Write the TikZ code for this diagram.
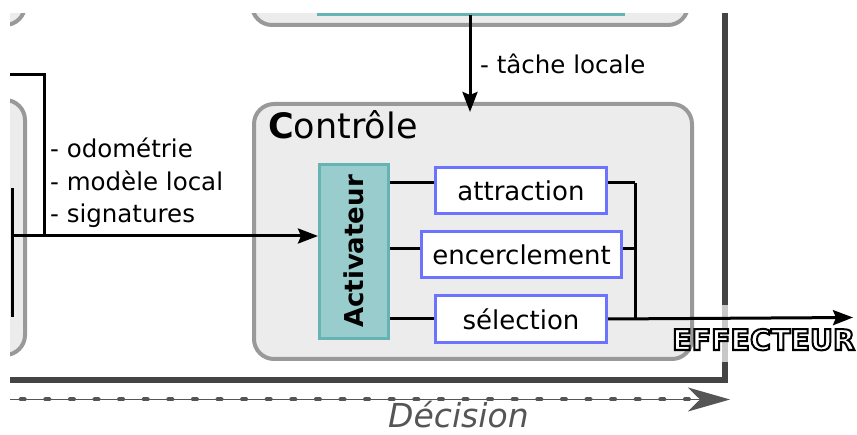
\documentclass[tikz,border=0pt]{standalone}
\usepackage{fontspec}
\setmainfont{DejaVu Sans}[ItalicFont={DejaVu Sans Oblique},BoldFont={DejaVu Sans Bold}]
\usetikzlibrary{arrows.meta}
\definecolor{boxfill}{HTML}{ECECEC}
\definecolor{boxline}{HTML}{999999}
\definecolor{tealfill}{HTML}{99CCCC}
\definecolor{tealline}{HTML}{66B3B3}
\definecolor{blueline}{HTML}{6B73FF}
\definecolor{framegray}{HTML}{444444}
\definecolor{dgray}{HTML}{555555}
\definecolor{lightseg}{HTML}{C8C8C8}
\newcommand{\outlinedtext}[1]{{\color{white}\special{pdf:code 2 Tr 2 w 0 G}#1\special{pdf:code 0 Tr}}}
\begin{document}
\begin{tikzpicture}[x=1pt,y=-1pt,
  panel/.style={draw=boxline,fill=boxfill,line width=4pt,rounded corners=20pt},
  behav/.style={draw=blueline,fill=white,line width=3pt,inner sep=0pt,
                font=\fontsize{26}{30}\selectfont},
  flow/.style={line width=3pt,black},
  arr/.style={flow,-{Stealth[length=20pt,width=15pt,inset=3pt]}},
  lbl/.style={font=\fontsize{24.5}{29}\selectfont,inner sep=0pt,anchor=base west}
]
\useasboundingbox (0,0) rectangle (857,435);
\begin{scope}
\clip (10,14) rectangle (857,435);
% partial panels
\draw[panel] (-100,-100) rectangle (25,25);
\draw[panel] (252,-100) rectangle (688,25);
\draw[tealline,line width=3pt] (317,15) -- (625,15);
\draw[panel] (-100,100) rectangle (25,355);
\draw[line width=3pt] (12,188) -- (12,317);
% outer frame
\draw[framegray,line width=6pt] (725,0) -- (725,380) -- (0,380);
\draw[lightseg,line width=6pt] (725,305) -- (725,362);
% control panel
\node[panel,anchor=north west,minimum width=438pt,minimum height=255pt,inner sep=0pt] (ctrl) at (252,102) {};
\node[anchor=base west,inner sep=0pt,font=\fontsize{35}{40}\selectfont] (ctrltitle) at (268,139) {\textbf{C}ontrôle};
% activator
\node[draw=tealline,fill=tealfill,line width=3pt,anchor=north west,minimum width=69pt,minimum height=174pt,inner sep=0pt] (act) at (318,163) {};
\node[rotate=90,inner sep=0pt,font=\fontsize{26}{30}\selectfont\bfseries] (actlbl) at (act.center) {Activateur};
% behaviours
\node[behav,anchor=north west,minimum width=171pt,minimum height=46pt] (att) at (434,166) {attraction};
\node[behav,anchor=north west,minimum width=200pt,minimum height=46pt] (enc) at (420,230) {encerclement};
\node[behav,anchor=north west,minimum width=171pt,minimum height=47pt] (sel) at (434,294) {sélection};
\coordinate (bus) at (635,183);
\draw[flow] (act.east |- 0,183) -- (att.west |- 0,183);
\draw[flow] (act.east |- 0,249) -- (enc.west |- 0,249);
\draw[flow] (act.east |- sel.west) -- (sel.west);
\draw[flow] (att.east |- 0,183) -- (bus);
\draw[flow] (enc.east |- 0,249) -- (bus |- 0,249);
\draw[flow] (bus) -- (bus |- sel.east);
\coordinate (eff) at (853,317.5);
\draw[arr] (sel.east) -- (eff);
\node[anchor=base west,inner sep=0pt,font=\fontsize{28.5}{33}\selectfont\bfseries] (efflbl) at (672,350) {\outlinedtext{EFFECTEUR}};
% inputs
\coordinate (inA) at (0,75);
\coordinate (inB) at (12,236);
\draw[flow] (inA) -- (44,75) -- (44,236);
\draw[arr] (inB) -- (act.west |- inB);
\node[lbl] (l1) at (50,158) {- odométrie};
\node[lbl] (l2) at (50,190.5) {- modèle local};
\node[lbl] (l3) at (50,223) {- signatures};
% task
\coordinate (task) at (470,15);
\coordinate (tasktip) at (470,112);
\draw[arr] (task) -- (tasktip);
\node[lbl] (ltask) at (480,74) {- tâche locale};
% decision timeline
\coordinate (d0) at (0,399.5);
\coordinate (d1) at (730,399.5);
\draw[dgray,line width=1.5pt,-{Stealth[length=42pt,width=24pt,inset=12pt]}] (d0) -- (d1);
\draw[dgray,line width=4pt,line cap=round,dash pattern=on 4pt off 20.6pt] (-3.9,399.5) -- (690,399.5);
\node[anchor=base west,inner sep=0pt,text=dgray,font=\fontsize{33}{37}\selectfont\itshape] (dec) at (388,428) {Décision};
\end{scope}
\end{tikzpicture}
\end{document}
